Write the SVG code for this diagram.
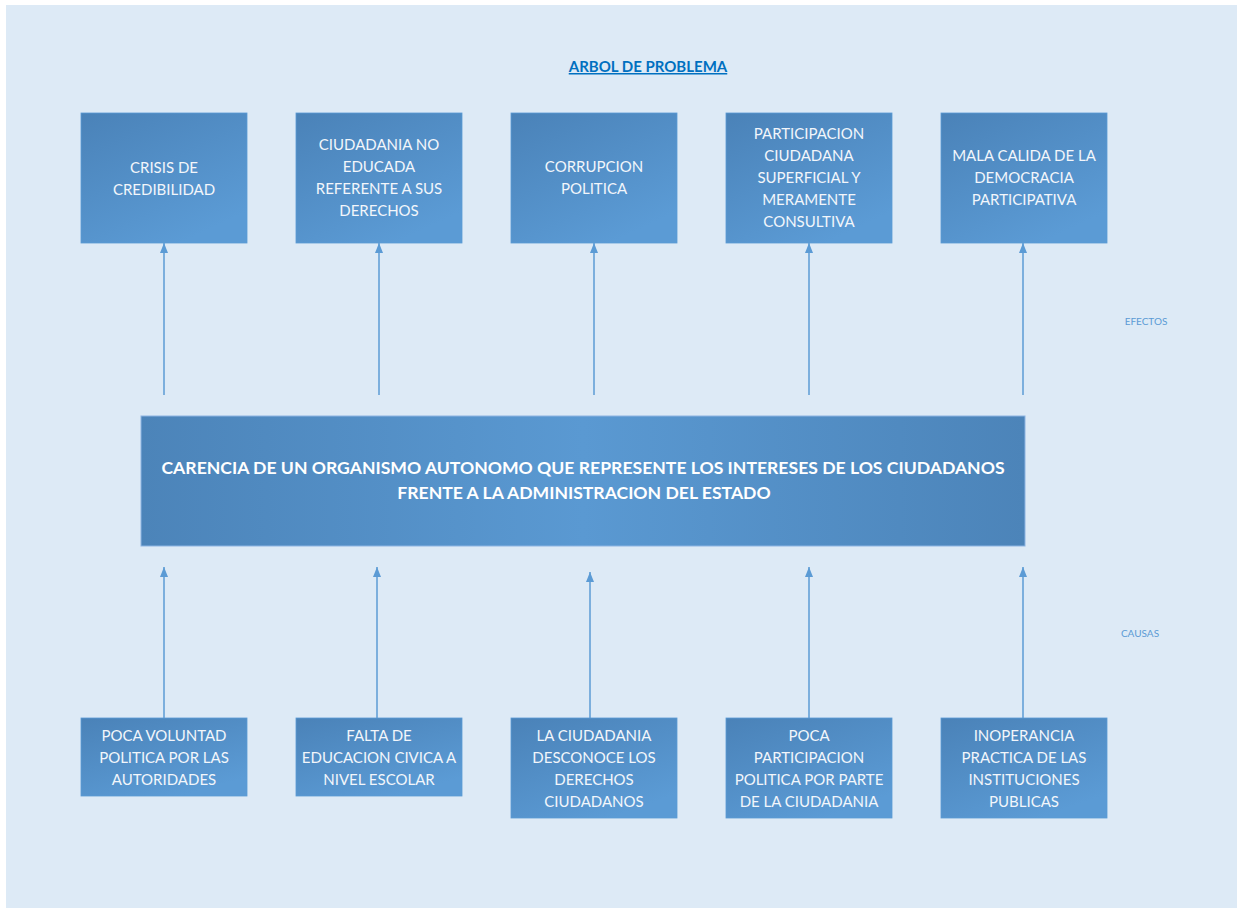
<svg xmlns="http://www.w3.org/2000/svg" width="1239" height="908" viewBox="0 0 1239 908">
<defs>
<linearGradient id="gbox" x1="0" y1="0" x2="0.6" y2="1">
<stop offset="0" stop-color="#4A82B8"/>
<stop offset="1" stop-color="#5B9BD5"/>
</linearGradient>
<linearGradient id="gmain" x1="0" y1="0" x2="1" y2="0">
<stop offset="0" stop-color="#4C84B9"/>
<stop offset="0.5" stop-color="#5A99D2"/>
<stop offset="1" stop-color="#4C84B9"/>
</linearGradient>
<marker id="ah" markerWidth="10" markerHeight="8" refX="10" refY="4" orient="auto" markerUnits="userSpaceOnUse" viewBox="0 0 10 8">
<path d="M0,0 L10,4 L0,8 Z" fill="#5B9BD5"/>
</marker>
</defs>
<style>
.box{fill:url(#gbox);stroke:#5B9BD5;stroke-width:0.8}
.main{fill:url(#gmain);stroke:#8DB4E2;stroke-width:1}
.t{font-family:Lato,"Open Sans","Liberation Sans",sans-serif;font-size:15px;fill:#F2F6FB;text-anchor:middle}
.tm{font-family:Lato,"Open Sans","Liberation Sans",sans-serif;font-size:17.6px;font-weight:bold;fill:#FFFFFF;text-anchor:middle}
.lbl{font-family:Lato,"Open Sans","Liberation Sans",sans-serif;font-size:10px;fill:#5B9BD5;text-anchor:middle}
.title{font-family:Lato,"Open Sans","Liberation Sans",sans-serif;font-size:15px;font-weight:bold;fill:#0070C0;text-anchor:middle;text-decoration:underline}
.c{stroke:#5B9BD5;stroke-width:1.5;fill:none;marker-end:url(#ah)}
</style>
<rect x="0" y="0" width="1239" height="908" fill="#FFFFFF"/>
<rect x="6" y="5" width="1231" height="903" fill="#DDEAF6"/>
<text class="title" x="648" y="72">ARBOL DE PROBLEMA</text>
<text class="lbl" x="1146" y="325">EFECTOS</text>
<text class="lbl" x="1140" y="637">CAUSAS</text>

<g id="connectors">
<line class="c" x1="164" y1="395" x2="164" y2="243"/>
<line class="c" x1="379" y1="395" x2="379" y2="243"/>
<line class="c" x1="594" y1="395" x2="594" y2="243"/>
<line class="c" x1="809" y1="395" x2="809" y2="243"/>
<line class="c" x1="1023" y1="395" x2="1023" y2="243"/>
<line class="c" x1="164" y1="718" x2="164" y2="567"/>
<line class="c" x1="377" y1="718" x2="377" y2="567"/>
<line class="c" x1="590" y1="718" x2="590" y2="572"/>
<line class="c" x1="809" y1="718" x2="809" y2="567"/>
<line class="c" x1="1023" y1="718" x2="1023" y2="567"/>
</g>

<g id="e1"><rect class="box" x="81" y="113" width="166" height="130"/>
<text class="t"><tspan x="164" y="173">CRISIS DE</tspan><tspan x="164" y="195">CREDIBILIDAD</tspan></text></g>
<g id="e2"><rect class="box" x="296" y="113" width="166" height="130"/>
<text class="t"><tspan x="379" y="150">CIUDADANIA NO</tspan><tspan x="379" y="172">EDUCADA</tspan><tspan x="379" y="194">REFERENTE A SUS</tspan><tspan x="379" y="216">DERECHOS</tspan></text></g>
<g id="e3"><rect class="box" x="511" y="113" width="166" height="130"/>
<text class="t"><tspan x="594" y="172">CORRUPCION</tspan><tspan x="594" y="194">POLITICA</tspan></text></g>
<g id="e4"><rect class="box" x="726" y="113" width="166" height="130"/>
<text class="t"><tspan x="809" y="139">PARTICIPACION</tspan><tspan x="809" y="161">CIUDADANA</tspan><tspan x="809" y="183">SUPERFICIAL Y</tspan><tspan x="809" y="205">MERAMENTE</tspan><tspan x="809" y="227">CONSULTIVA</tspan></text></g>
<g id="e5"><rect class="box" x="941" y="113" width="166" height="130"/>
<text class="t"><tspan x="1024" y="161">MALA CALIDA DE LA</tspan><tspan x="1024" y="183">DEMOCRACIA</tspan><tspan x="1024" y="205">PARTICIPATIVA</tspan></text></g>

<g id="problem"><rect class="main" x="141" y="416" width="884" height="130"/>
<text class="tm"><tspan x="583" y="474">CARENCIA DE UN ORGANISMO AUTONOMO QUE REPRESENTE LOS INTERESES DE LOS CIUDADANOS</tspan><tspan x="584" y="499">FRENTE A LA ADMINISTRACION DEL ESTADO</tspan></text></g>

<g id="c1"><rect class="box" x="81" y="718" width="166" height="78"/>
<text class="t"><tspan x="164" y="741">POCA VOLUNTAD</tspan><tspan x="164" y="763">POLITICA POR LAS</tspan><tspan x="164" y="785">AUTORIDADES</tspan></text></g>
<g id="c2"><rect class="box" x="296" y="718" width="166" height="78"/>
<text class="t"><tspan x="379" y="741">FALTA DE</tspan><tspan x="379" y="763">EDUCACION CIVICA A</tspan><tspan x="379" y="785">NIVEL ESCOLAR</tspan></text></g>
<g id="c3"><rect class="box" x="511" y="718" width="166" height="100"/>
<text class="t"><tspan x="594" y="741">LA CIUDADANIA</tspan><tspan x="594" y="763">DESCONOCE LOS</tspan><tspan x="594" y="785">DERECHOS</tspan><tspan x="594" y="807">CIUDADANOS</tspan></text></g>
<g id="c4"><rect class="box" x="726" y="718" width="166" height="100"/>
<text class="t"><tspan x="809" y="741">POCA</tspan><tspan x="809" y="763">PARTICIPACION</tspan><tspan x="809" y="785">POLITICA POR PARTE</tspan><tspan x="809" y="807">DE LA CIUDADANIA</tspan></text></g>
<g id="c5"><rect class="box" x="941" y="718" width="166" height="100"/>
<text class="t"><tspan x="1024" y="741">INOPERANCIA</tspan><tspan x="1024" y="763">PRACTICA DE LAS</tspan><tspan x="1024" y="785">INSTITUCIONES</tspan><tspan x="1024" y="807">PUBLICAS</tspan></text></g>
</svg>
